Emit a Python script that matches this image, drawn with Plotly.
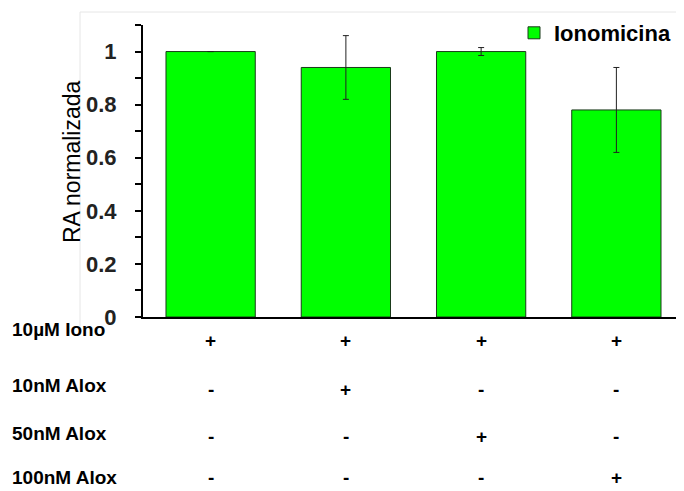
import plotly.graph_objects as go

categories = ["A", "B", "C", "D"]
values = [1.0, 0.94, 1.0, 0.78]
errors = [0.0, 0.12, 0.015, 0.16]

row_labels = ["10µM Iono", "10nM Alox", "50nM Alox", "100nM Alox"]
conditions = [
    ["+", "+", "+", "+"],
    ["-", "+", "-", "-"],
    ["-", "-", "+", "-"],
    ["-", "-", "-", "+"],
]

# page pixel rows for the condition table (label column / sign columns)
label_y_px = [329, 385, 433, 478]
sign_y_px = [341, 389, 436, 478]

# plot area in page pixels (page has an 8px body margin)
OFF = 8
P_LEFT, P_RIGHT, P_TOP, P_BOTTOM = 143, 684, 25, 317


def ypap(ypx):
    return (P_BOTTOM - ypx) / (P_BOTTOM - P_TOP)


def xpap(xpx):
    return (xpx - P_LEFT) / (P_RIGHT - P_LEFT)


fig = go.Figure()
fig.add_trace(go.Bar(
    x=categories, y=values, name="<b>Ionomicina</b>",
    width=0.66,
    marker=dict(color="#00ff00", line=dict(color="#1a3a1a", width=1)),
    error_y=dict(type="data", array=errors, color="#222222", thickness=1, width=3),
))

label_font = dict(family="Liberation Sans Narrow, Arial Narrow, Liberation Sans", size=19, color="black")
sign_font = dict(family="Liberation Sans", size=19, color="black")
annotations = []
for label, row, ly, sy in zip(row_labels, conditions, label_y_px, sign_y_px):
    annotations.append(dict(
        x=xpap(10), xref="paper", y=ypap(ly), yref="paper",
        text="<b>%s</b>" % label, showarrow=False, xanchor="left", yanchor="middle",
        font=label_font,
    ))
    for cat, sign in zip(categories, row):
        annotations.append(dict(
            x=cat, xref="x", y=ypap(sy), yref="paper", yanchor="middle",
            text="<b>%s</b>" % sign, showarrow=False, font=sign_font,
        ))

# y axis title placed as a rotated annotation (sits above plot-area centre)
annotations.append(dict(
    x=xpap(72), xref="paper", y=ypap(162), yref="paper",
    text="RA normalizada", textangle=-90, showarrow=False,
    xanchor="center", yanchor="middle",
    font=dict(family="Liberation Sans", size=23, color="black"),
))

fig.update_layout(
    width=684 - OFF, height=491 - OFF,
    margin=dict(l=P_LEFT - OFF, r=0, t=P_TOP - OFF, b=491 - P_BOTTOM),
    plot_bgcolor="white", paper_bgcolor="white",
    showlegend=True,
    legend=dict(x=xpap(514), y=ypap(12), xanchor="left", yanchor="top",
                font=dict(family="Liberation Sans", size=22, color="black"),
                bgcolor="rgba(0,0,0,0)", itemwidth=30),
    xaxis=dict(range=[-0.5, 3.5], showticklabels=False, ticks="",
               showline=True, linecolor="black", linewidth=2, showgrid=False,
               zeroline=False),
    yaxis=dict(range=[0, 1.1], tickvals=[0, 0.2, 0.4, 0.6, 0.8, 1],
               ticktext=["<b>0</b>", "<b>0.2</b>", "<b>0.4</b>", "<b>0.6</b>", "<b>0.8</b>", "<b>1</b>"],
               ticks="outside", ticklen=6, tickwidth=2, tickcolor="black",
               ticklabelstandoff=14,
               minor=dict(tickvals=[0.1, 0.3, 0.5, 0.7, 0.9, 1.1], ticks="outside",
                          ticklen=6, tickwidth=2, tickcolor="black"),
               showline=True, linecolor="black", linewidth=2, showgrid=False,
               zeroline=False,
               tickfont=dict(family="Liberation Sans", size=22, color="#222222")),
    shapes=[
        dict(type="line", xref="paper", yref="paper", x0=xpap(80), x1=1.0,
             y0=ypap(12), y1=ypap(12), line=dict(color="#e6e6e6", width=1)),
        dict(type="line", xref="paper", yref="paper", x0=xpap(80), x1=xpap(80),
             y0=ypap(12), y1=ypap(330), line=dict(color="#e6e6e6", width=1)),
    ],
    annotations=annotations,
)

fig.write_html("out.html")
